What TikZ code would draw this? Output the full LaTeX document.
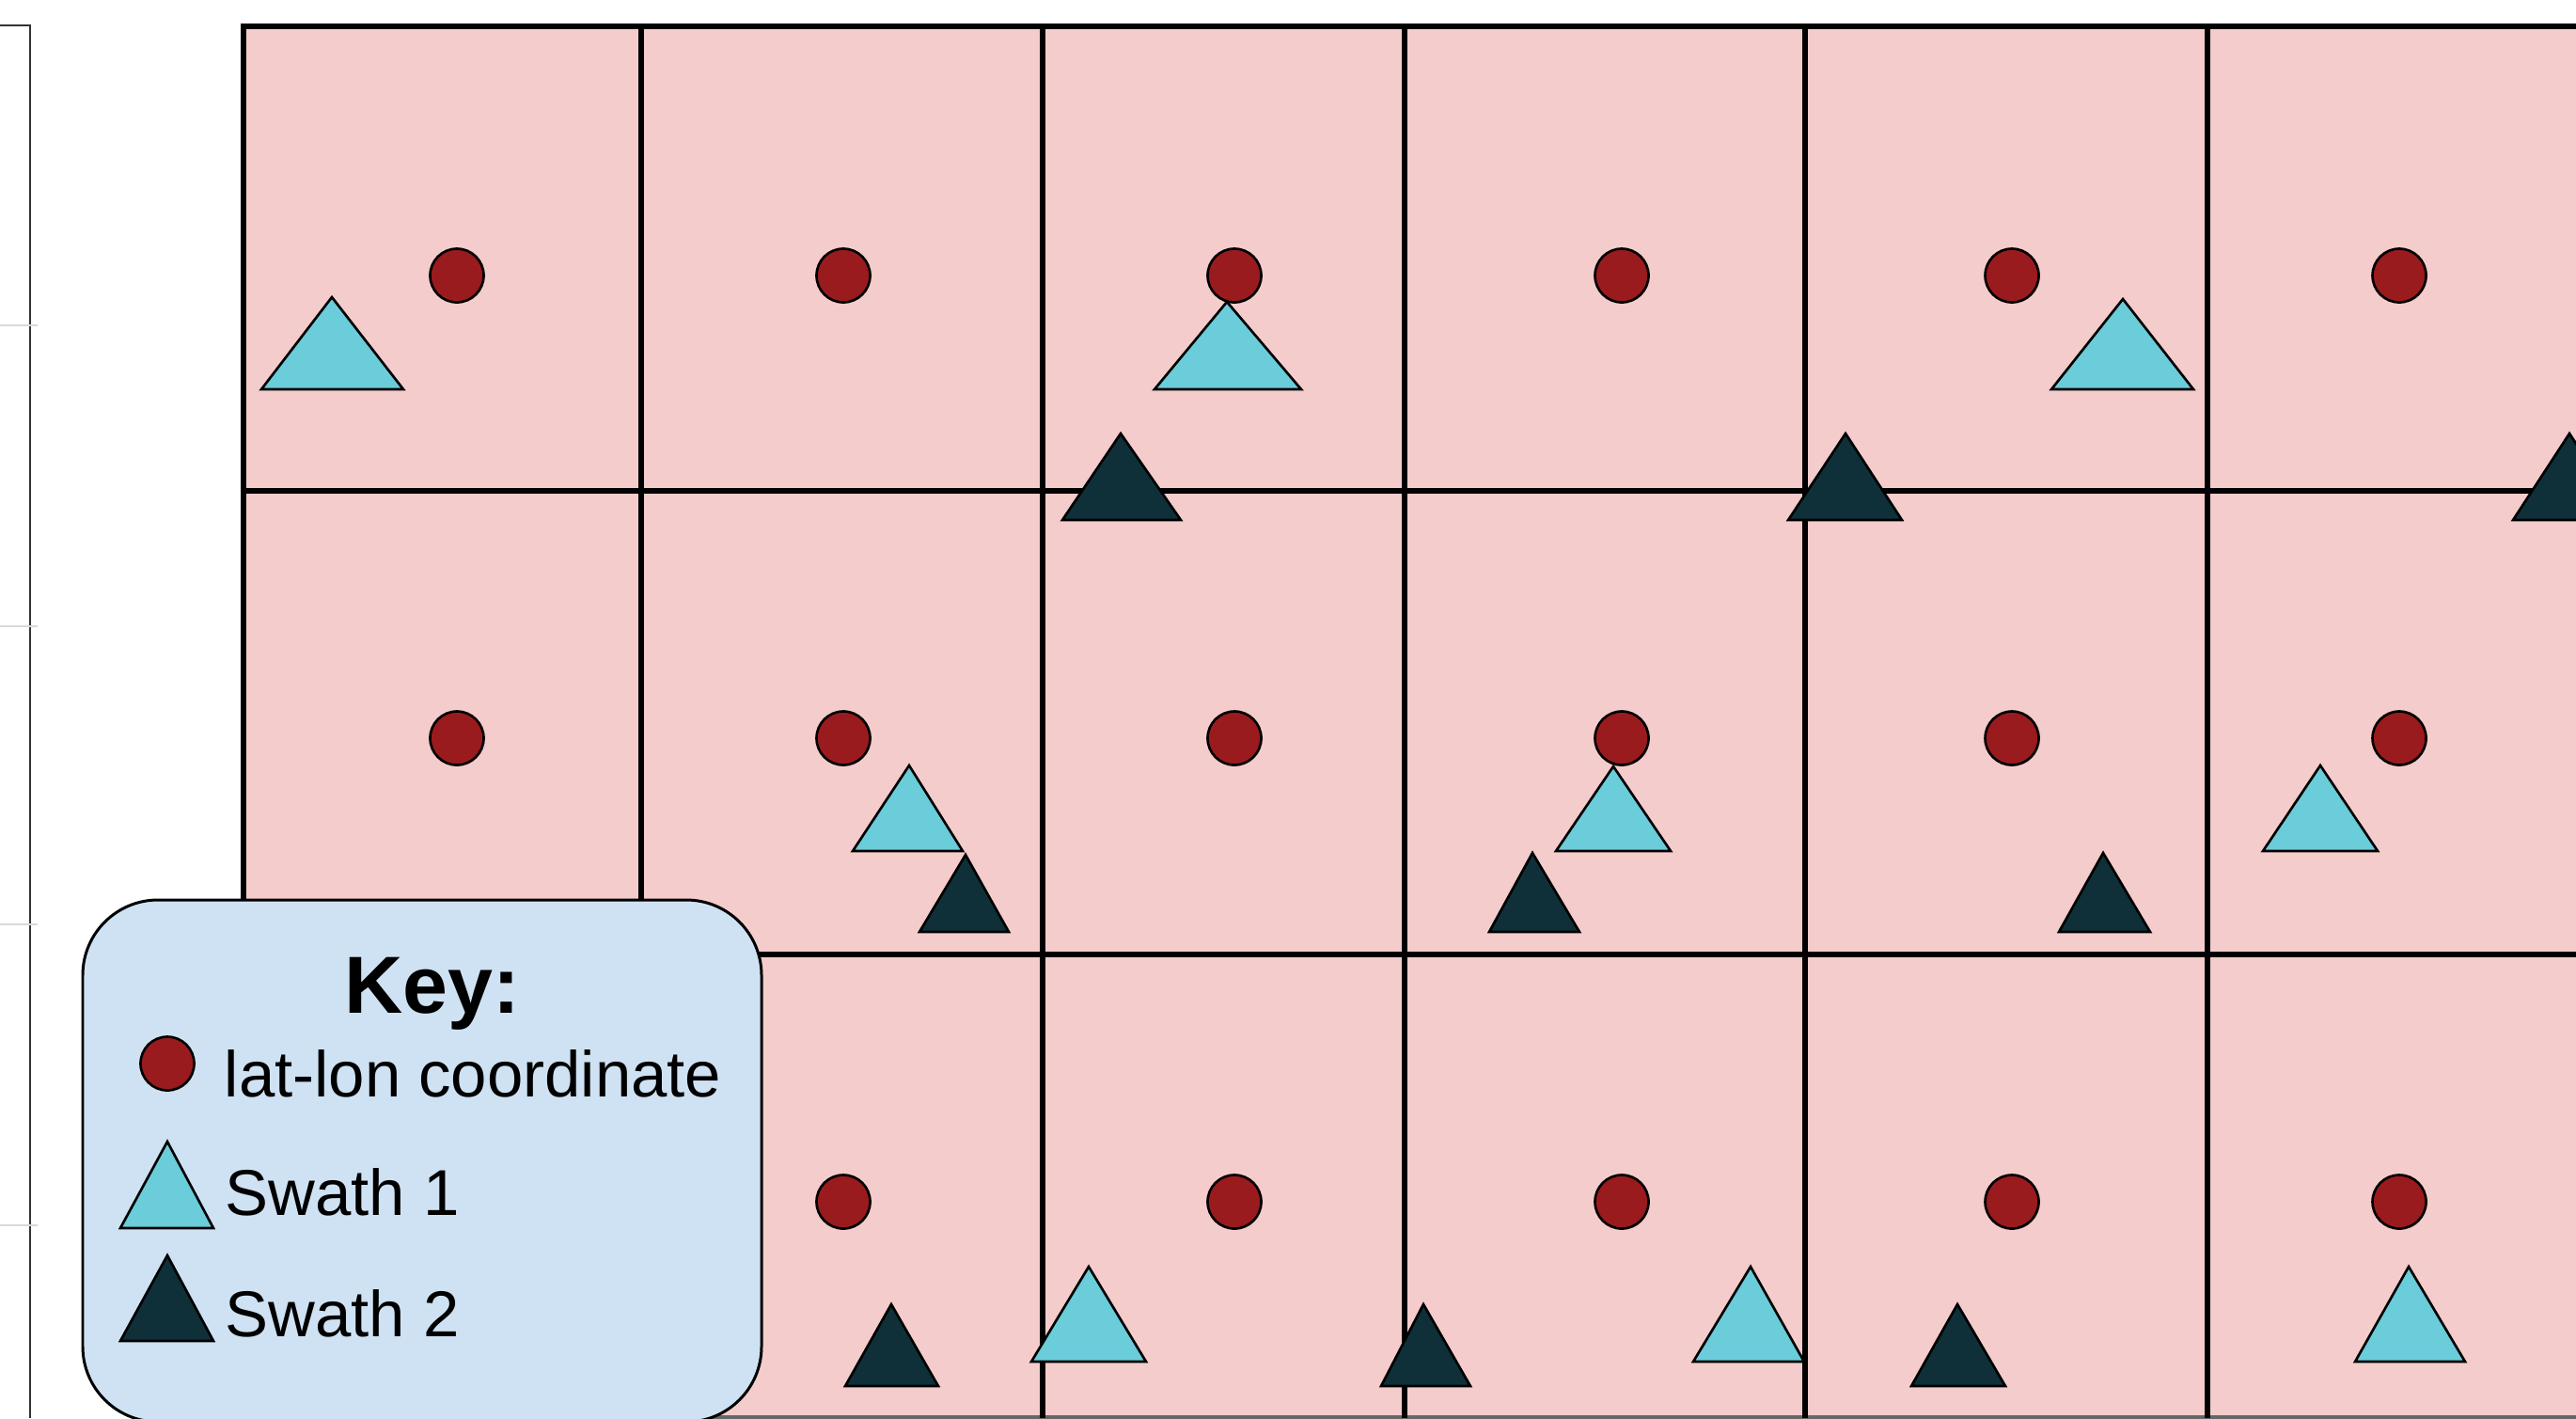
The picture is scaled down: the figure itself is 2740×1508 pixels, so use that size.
\documentclass[tikz,border=0pt]{standalone}
\usepackage{fontspec}
\setmainfont{Liberation Sans}
\definecolor{cellpink}{HTML}{F4CCCC}
\definecolor{dotred}{HTML}{991B1E}
\definecolor{swathcyan}{HTML}{6BCCDA}
\definecolor{swathdark}{HTML}{0F3038}
\definecolor{keyblue}{HTML}{CFE2F3}

\begin{document}
\begin{tikzpicture}[x=0.01cm, y=-0.01cm,
  gridline/.style={line width=1.5pt, black},
  latlon/.style={draw=black, line width=0.75pt, fill=dotred},
  swathone/.style={draw=black, line width=0.75pt, fill=swathcyan},
  swathtwo/.style={draw=black, line width=0.75pt, fill=swathdark},
  keytext/.style={font=\fontsize{19.6}{24}\selectfont, anchor=base west, inner sep=0pt}]
  \useasboundingbox (0,0) rectangle (2740,1508);
  \clip (0,0) rectangle (2740,1508);

  % --- Cropped panel at the left edge ---
  \draw[black!80, line width=0.8pt] (0,27) -- (32,27) -- (32,1508);
  \draw[black!15, line width=0.4pt] (0,346) -- (40,346);
  \draw[black!15, line width=0.4pt] (0,666) -- (40,666);
  \draw[black!15, line width=0.4pt] (0,983) -- (40,983);
  \draw[black!15, line width=0.4pt] (0,1303) -- (40,1303);

  % --- Grid cells ---
  \fill[cellpink] (259,28) rectangle (2740,1508);
  \draw[gridline] (259,1508) -- (259,28) -- (2740,28);
  \draw[gridline] (259,522) -- (2740,522);
  \draw[gridline] (259,1015) -- (2740,1015);
  \draw[gridline, black!60] (259,1508) -- (2740,1508);
  \draw[gridline] (682,28) -- (682,1508);
  \draw[gridline] (1109,28) -- (1109,1508);
  \draw[gridline] (1494,28) -- (1494,1508);
  \draw[gridline] (1920,28) -- (1920,1508);
  \draw[gridline] (2348,28) -- (2348,1508);

  % lat-lon coordinates (cell centres)
  \draw[latlon] (486,293) circle (2.85mm);
  \draw[latlon] (897,293) circle (2.85mm);
  \draw[latlon] (1313,293) circle (2.85mm);
  \draw[latlon] (1725,293) circle (2.85mm);
  \draw[latlon] (2140,293) circle (2.85mm);
  \draw[latlon] (2552,293) circle (2.85mm);
  \draw[latlon] (486,785) circle (2.85mm);
  \draw[latlon] (897,785) circle (2.85mm);
  \draw[latlon] (1313,785) circle (2.85mm);
  \draw[latlon] (1725,785) circle (2.85mm);
  \draw[latlon] (2140,785) circle (2.85mm);
  \draw[latlon] (2552,785) circle (2.85mm);
  \draw[latlon] (897,1278) circle (2.85mm);
  \draw[latlon] (1313,1278) circle (2.85mm);
  \draw[latlon] (1725,1278) circle (2.85mm);
  \draw[latlon] (2140,1278) circle (2.85mm);
  \draw[latlon] (2552,1278) circle (2.85mm);

  % swath 1 points
  \draw[swathone] (278,414) -- (353,316) -- (429,414) -- cycle;
  \draw[swathone] (1228,414) -- (1305,321) -- (1384,414) -- cycle;
  \draw[swathone] (2182,414) -- (2258,318) -- (2333,414) -- cycle;
  \draw[swathone] (907,905) -- (967,814) -- (1024,905) -- cycle;
  \draw[swathone] (1655,905) -- (1716,815) -- (1777,905) -- cycle;
  \draw[swathone] (2407,905) -- (2468,814) -- (2529,905) -- cycle;
  \draw[swathone] (1097,1448) -- (1158,1347) -- (1219,1448) -- cycle;
  \draw[swathone] (1801,1448) -- (1862,1347) -- (1919,1448) -- cycle;
  \draw[swathone] (2505,1448) -- (2562,1347) -- (2622,1448) -- cycle;

  % swath 2 points
  \draw[swathtwo] (1130,553) -- (1192,461) -- (1256,553) -- cycle;
  \draw[swathtwo] (1902,553) -- (1963,461) -- (2023,553) -- cycle;
  \draw[swathtwo] (2673,553) -- (2733,461) -- (2793,553) -- cycle;
  \draw[swathtwo] (978,991) -- (1027,909) -- (1073,991) -- cycle;
  \draw[swathtwo] (1584,991) -- (1630,907) -- (1680,991) -- cycle;
  \draw[swathtwo] (2190,991) -- (2237,907) -- (2287,991) -- cycle;
  \draw[swathtwo] (899,1474) -- (948,1387) -- (998,1474) -- cycle;
  \draw[swathtwo] (1469,1474) -- (1514,1387) -- (1564,1474) -- cycle;
  \draw[swathtwo] (2033,1474) -- (2082,1387) -- (2133,1474) -- cycle;

  % --- Key ---
  \draw[fill=keyblue, line width=0.85pt, rounded corners=0.8cm] (88,957) rectangle (810,1512);
  \node[font=\bfseries\fontsize{24.5}{28}\selectfont, anchor=base, inner sep=0pt]
    (keytitle) at (460,1077) {Key:};
  \draw[latlon] (178,1131) circle (2.85mm);
  \node[keytext] (keylatlon) at (238,1166) {lat-lon coordinate};
  \draw[swathone] (128,1306) -- (178,1214) -- (227,1306) -- cycle;
  \node[keytext] (keyswathone) at (239,1292) {Swath 1};
  \draw[swathtwo] (128,1426) -- (178,1335) -- (227,1426) -- cycle;
  \node[keytext] (keyswathtwo) at (239,1421) {Swath 2};
\end{tikzpicture}
\end{document}
